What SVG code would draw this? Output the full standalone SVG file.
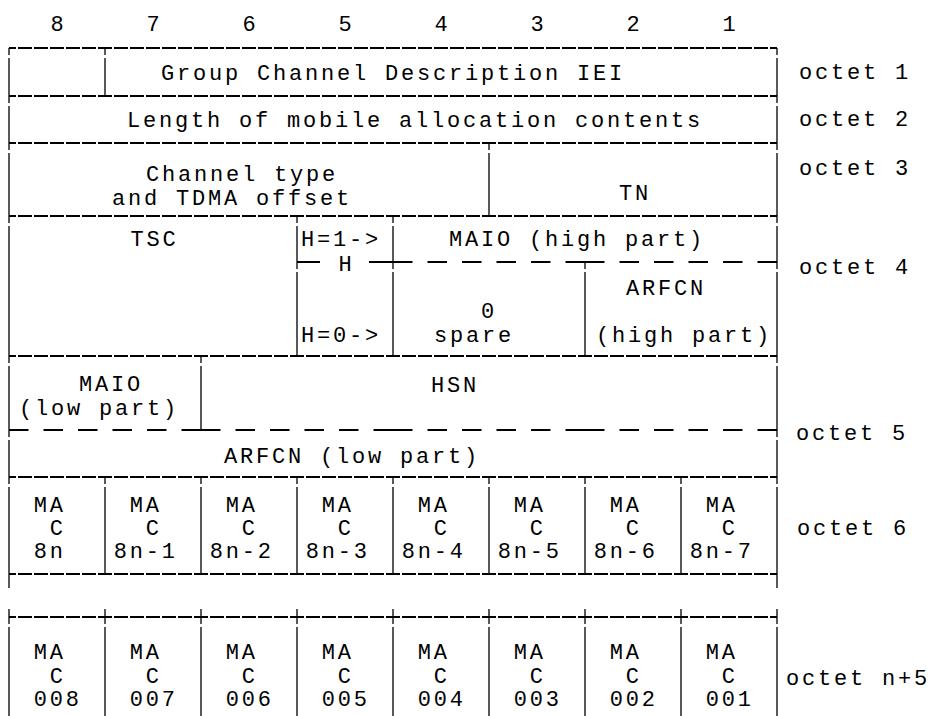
<svg xmlns="http://www.w3.org/2000/svg" width="931" height="716" viewBox="0 0 931 716">
<style>
text{font-family:"Liberation Mono","Courier New",monospace;font-size:22px;letter-spacing:2.8px;fill:#000}
.m{text-anchor:middle}
.h{stroke:#000;stroke-width:2;stroke-dasharray:14 2;stroke-dashoffset:7;fill:none}
.d{stroke:#000;stroke-width:2;stroke-dasharray:19.5 15;fill:none}
.s{stroke:#000;stroke-width:2;fill:none}
.v{stroke:#000;stroke-width:1.3;fill:none}
</style>
<rect width="931" height="716" fill="#fff"/>
<g id="connectors">
<line class="h" x1="9" y1="48" x2="777" y2="48"/>
<line class="h" x1="9" y1="96" x2="777" y2="96"/>
<line class="h" x1="9" y1="143" x2="777" y2="143"/>
<line class="h" x1="9" y1="216" x2="777" y2="216"/>
<line class="h" x1="9" y1="356" x2="777" y2="356"/>
<line class="h" x1="9" y1="477" x2="777" y2="477"/>
<line class="h" x1="9" y1="574" x2="777" y2="574"/>
<line class="h" x1="9" y1="617" x2="777" y2="617"/>
<line class="s" x1="297" y1="262" x2="320" y2="262"/>
<line class="s" x1="369" y1="262" x2="393" y2="262"/>
<line class="d" x1="393" y1="262" x2="585" y2="262"/>
<line class="d" x1="585" y1="262" x2="777" y2="262"/>
<line class="d" x1="9" y1="430" x2="201" y2="430"/>
<line class="d" x1="201" y1="430" x2="393" y2="430"/>
<line class="d" x1="393" y1="430" x2="585" y2="430"/>
<line class="d" x1="585" y1="430" x2="777" y2="430"/>
<path class="v" d="M9 48V55M9 58V103M9 106V150M9 153V223M9 226V363M9 366V437M9 440V484M9 487V588M9 609V624M9 627V716"/>
<path class="v" d="M777 48V55M777 58V103M777 106V150M777 153V223M777 226V269M777 272V363M777 366V437M777 440V484M777 487V588M777 609V624M777 627V716"/>
<path class="v" d="M105 48V55M105 58V96M105 477V484M105 487V574M105 609V624M105 627V716"/>
<path class="v" d="M201 356V363M201 366V430M201 477V484M201 487V574M201 609V624M201 627V716"/>
<path class="v" d="M297 216V223M297 226V269M297 272V356M297 477V484M297 487V574M297 609V624M297 627V716"/>
<path class="v" d="M393 216V223M393 226V269M393 272V356M393 477V484M393 487V574M393 609V624M393 627V716"/>
<path class="v" d="M489 143V150M489 153V216M489 477V484M489 487V574M489 609V624M489 627V716"/>
<path class="v" d="M585 262V269M585 272V356M585 477V484M585 487V574M585 609V624M585 627V716"/>
<path class="v" d="M681 477V484M681 487V574M681 609V624M681 627V716"/>
</g>
<g id="header">
<text class="m" x="58.4" y="31">8</text>
<text class="m" x="154.4" y="31">7</text>
<text class="m" x="250.4" y="31">6</text>
<text class="m" x="346.4" y="31">5</text>
<text class="m" x="442.4" y="31">4</text>
<text class="m" x="538.4" y="31">3</text>
<text class="m" x="634.4" y="31">2</text>
<text class="m" x="730.4" y="31">1</text>
</g>
<g id="octet1"><text x="161" y="80">Group Channel Description IEI</text></g>
<g id="octet2"><text x="127" y="127">Length of mobile allocation contents</text></g>
<g id="channel-type"><text x="146" y="181">Channel type</text><text x="112" y="205">and TDMA offset</text></g>
<g id="tn"><text x="619" y="200">TN</text></g>
<g id="tsc"><text class="m" x="154.4" y="246">TSC</text></g>
<g id="h-bit"><text x="301" y="246">H=1-&gt;</text><text class="m" x="346.4" y="271">H</text><text x="301" y="342">H=0-&gt;</text></g>
<g id="maio-high"><text x="449" y="246">MAIO (high part)</text></g>
<g id="spare"><text x="481" y="318">0</text><text x="434" y="342">spare</text></g>
<g id="arfcn-high"><text x="626" y="295">ARFCN</text><text x="596" y="342">(high part)</text></g>
<g id="maio-low"><text x="79" y="391">MAIO</text><text x="19" y="415">(low part)</text></g>
<g id="hsn"><text x="431" y="392">HSN</text></g>
<g id="arfcn-low"><text x="224" y="463">ARFCN (low part)</text></g>
<g id="octet6">
<text x="33.8" y="512">MA</text><text x="49.8" y="535">C</text><text x="33.8" y="558">8n</text>
<text x="129.8" y="512">MA</text><text x="145.8" y="535">C</text><text x="113.8" y="558">8n-1</text>
<text x="225.8" y="512">MA</text><text x="241.8" y="535">C</text><text x="209.8" y="558">8n-2</text>
<text x="321.8" y="512">MA</text><text x="337.8" y="535">C</text><text x="305.8" y="558">8n-3</text>
<text x="417.8" y="512">MA</text><text x="433.8" y="535">C</text><text x="401.8" y="558">8n-4</text>
<text x="513.8" y="512">MA</text><text x="529.8" y="535">C</text><text x="497.8" y="558">8n-5</text>
<text x="609.8" y="512">MA</text><text x="625.8" y="535">C</text><text x="593.8" y="558">8n-6</text>
<text x="705.8" y="512">MA</text><text x="721.8" y="535">C</text><text x="689.8" y="558">8n-7</text>
</g>
<g id="octet-n5">
<text x="33.8" y="659">MA</text><text x="49.8" y="683">C</text><text x="33.8" y="706">008</text>
<text x="129.8" y="659">MA</text><text x="145.8" y="683">C</text><text x="129.8" y="706">007</text>
<text x="225.8" y="659">MA</text><text x="241.8" y="683">C</text><text x="225.8" y="706">006</text>
<text x="321.8" y="659">MA</text><text x="337.8" y="683">C</text><text x="321.8" y="706">005</text>
<text x="417.8" y="659">MA</text><text x="433.8" y="683">C</text><text x="417.8" y="706">004</text>
<text x="513.8" y="659">MA</text><text x="529.8" y="683">C</text><text x="513.8" y="706">003</text>
<text x="609.8" y="659">MA</text><text x="625.8" y="683">C</text><text x="609.8" y="706">002</text>
<text x="705.8" y="659">MA</text><text x="721.8" y="683">C</text><text x="705.8" y="706">001</text>
</g>
<g id="octet-labels">
<text x="799" y="79">octet 1</text>
<text x="799" y="126">octet 2</text>
<text x="799" y="175">octet 3</text>
<text x="799" y="274">octet 4</text>
<text x="796" y="440">octet 5</text>
<text x="797" y="535">octet 6</text>
<text x="786" y="685">octet n+5</text>
</g>
</svg>
